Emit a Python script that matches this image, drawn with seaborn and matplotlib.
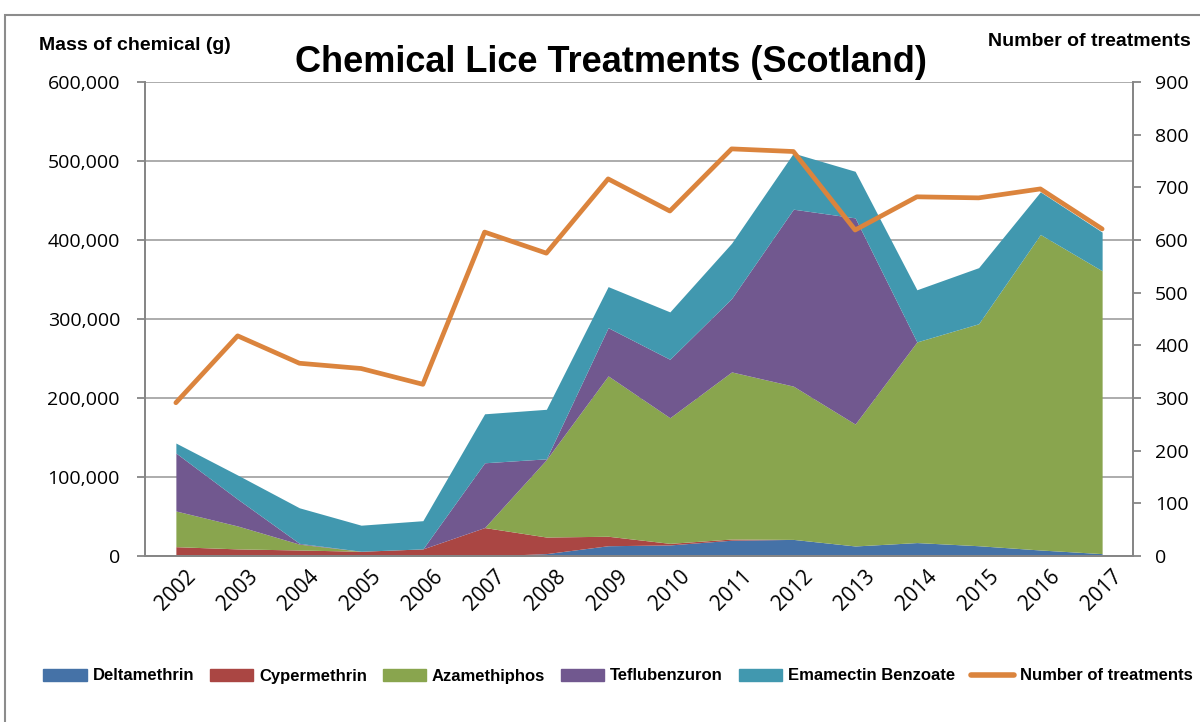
#!/usr/bin/env python3
"""
    Stacked area of chemical mass per lice treatment in Scotland,
    with the number of treatments on a second axis
"""
import numpy as np
import pandas as pd
import matplotlib.pyplot as plt
import matplotlib.ticker as mticker
from matplotlib.patches import Rectangle
from matplotlib.lines import Line2D
import seaborn as sns

years = [2002, 2003, 2004, 2005, 2006, 2007, 2008, 2009,
         2010, 2011, 2012, 2013, 2014, 2015, 2016, 2017]
deltamethrin = [0, 0, 0, 0, 0, 0, 3000, 13000,
                14000, 20000, 21000, 12700, 17000, 13000, 7600, 3000]
cypermethrin = [11800, 9000, 7600, 6000, 9000, 36000, 21000, 12000,
                2000, 1500, 0, 0, 0, 0, 0, 0]
azamethiphos = [45200, 29000, 7400, 0, 0, 0, 98000, 203000,
                159000, 211500, 194000, 154300, 254000, 281000, 399400, 358000]
teflubenzuron = [73400, 34000, 1000, 0, 0, 82000, 1000, 61000,
                 74000, 93000, 224000, 261000, 0, 0, 0, 0]
emamectin = [12600, 30500, 45000, 33000, 35700, 62000, 62700, 52000,
             60000, 70000, 71000, 59000, 66000, 71000, 54000, 49000]
treatments = [291, 418, 366, 356, 326, 615, 575, 716,
              655, 773, 768, 619, 682, 680, 697, 621]

series_names = ["Deltamethrin", "Cypermethrin", "Azamethiphos",
                "Teflubenzuron", "Emamectin Benzoate"]
series_colors = ["#4572A7", "#AA4643", "#89A54E", "#71588F", "#4198AF"]
line_color = "#DB843D"
grid_color = "#A6A6A6"
spine_color = "#868686"

sns.set_style("white")
plt.rcParams["font.family"] = ["Open Sans", "DejaVu Sans"]
plt.rcParams["text.color"] = "black"
bold_font = ["Liberation Sans", "DejaVu Sans"]

frame = pd.DataFrame({"year": years, "treatments": treatments})
frame["pos"] = np.arange(len(years))

fig = plt.figure(figsize=(12, 7.22), dpi=100)
ax = fig.add_axes([145 / 1200, 1 - 556 / 722, (1133 - 145) / 1200, (556 - 82) / 722])
ax2 = ax.twinx()

# stacked areas
ax.stackplot(frame["pos"], deltamethrin, cypermethrin, azamethiphos,
             teflubenzuron, emamectin, colors=series_colors,
             labels=series_names, linewidth=0)

ax.set_xlim(-0.5, len(years) - 0.5)
ax.set_ylim(0, 600000)
ax.yaxis.set_major_locator(mticker.MultipleLocator(100000))
ax.yaxis.set_major_formatter(mticker.FuncFormatter(lambda v, p: f"{int(v):,}"))
ax.grid(axis="y", color=grid_color, linewidth=1.3)
ax.set_axisbelow(True)

# category boundaries get ticks, centres get labels
ax.set_xticks(np.arange(-0.5, len(years), 1.0))
ax.set_xticklabels([])
ax.set_xticks(frame["pos"], minor=True)
ax.set_xticklabels([str(y) for y in years], minor=True, rotation=45,
                   ha="center", fontsize=15)
ax.tick_params(axis="x", which="minor", length=0, pad=7, labelcolor="black")
ax.tick_params(axis="x", which="major", length=6, color=spine_color, width=1.3)
ax.tick_params(axis="y", length=6, color=spine_color, width=1.3,
               labelsize=14, pad=12, labelcolor="black")

# treatments line on the right axis
sns.lineplot(data=frame, x="pos", y="treatments", ax=ax2, color=line_color,
             linewidth=3.4, legend=False)
ax2.set_ylim(0, 900)
ax2.yaxis.set_major_locator(mticker.MultipleLocator(100))
ax2.set_ylabel("")
ax2.set_xlabel("")
ax.set_xlabel("")
ax2.tick_params(axis="y", length=6, color=spine_color, width=1.3,
                labelsize=14, pad=10, labelcolor="black")

for a in (ax, ax2):
    a.spines["top"].set_visible(False)
    for side in ("left", "right", "bottom"):
        a.spines[side].set_color(spine_color)
        a.spines[side].set_linewidth(1.3)

# titles
fig.text(611 / 1200, 1 - 62 / 722, "Chemical Lice Treatments (Scotland)",
         ha="center", va="center", fontsize=26, fontweight="bold",
         family=bold_font)
fig.text(135 / 1200, 1 - 46 / 722, "Mass of chemical (g)", ha="center",
         va="center", fontsize=14, fontweight="bold", family=bold_font)
fig.text(1089 / 1200, 1 - 42 / 722, "Number of treatments", ha="center",
         va="center", fontsize=14, fontweight="bold", family=bold_font)

# legend
handles = [Rectangle((0, 0), 1, 1, color=c) for c in series_colors]
handles.append(Line2D([0], [0], color=line_color, linewidth=4))
fig.legend(handles, series_names + ["Number of treatments"], loc="center",
           bbox_to_anchor=(618 / 1200, 1 - 676 / 722), ncol=6, frameon=False,
           handlelength=2.6, handleheight=0.7, handletextpad=0.35,
           columnspacing=0.95, prop={"family": bold_font, "weight": "bold",
                                     "size": 12})

# outer chart border
fig.add_artist(Rectangle((5 / 1200, -0.1), 1.2, 1.1 - 15 / 722,
                         transform=fig.transFigure, fill=False,
                         edgecolor="#8C8C8C", linewidth=1.5))

fig.savefig("out.png", dpi=100)
